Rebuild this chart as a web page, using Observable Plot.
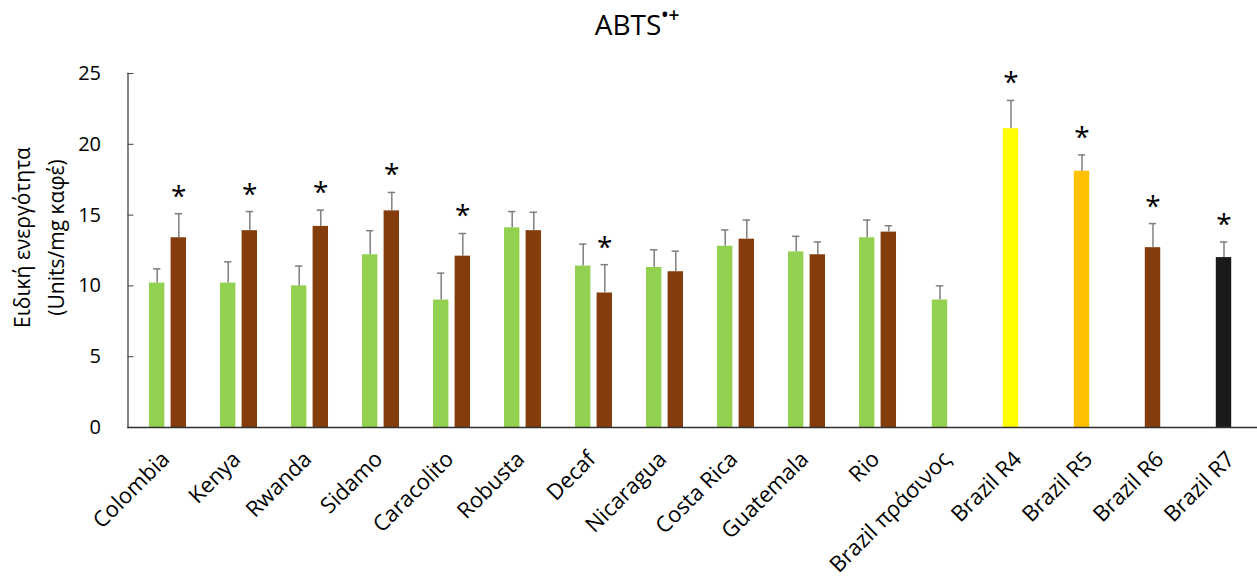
<!DOCTYPE html>
<html>
<head>
<meta charset="utf-8">
<script src="https://cdn.jsdelivr.net/npm/d3@7"></script>
<script src="https://cdn.jsdelivr.net/npm/@observablehq/plot@0.6"></script>
<style>
  html, body { margin: 0; padding: 0; background: #fff; overflow: hidden; }
  #title { position: relative; height: 45px; width: 1257px; font-family: "Open Sans", sans-serif; }
  #title span.t { position: absolute; left: 637px; top: 10px; transform: translateX(-50%); font-size: 28px; line-height: 28px; color: #000; white-space: nowrap; }
  #title sup { font-size: 19px; position: relative; top: -3px; vertical-align: super; line-height: 0; font-weight: 600; }
</style>
</head>
<body>
<div id="title"><span class="t">ABTS<sup>•+</sup></span></div>
<div id="chart"></div>
<script>
// ---- data ----
const categories = ["Colombia", "Kenya", "Rwanda", "Sidamo", "Caracolito", "Robusta", "Decaf", "Nicaragua",
  "Costa Rica", "Guatemala", "Rio", "Brazil πράσινος", "Brazil R4", "Brazil R5", "Brazil R6", "Brazil R7"];

// green (unroasted) beans: first 12 categories
const greenValues = [10.2, 10.2, 10.0, 12.2, 9.0, 14.1, 11.4, 11.3, 12.8, 12.4, 13.4, 9.0];
const greenErrors = [1.0, 1.5, 1.4, 1.7, 1.9, 1.15, 1.55, 1.25, 1.15, 1.1, 1.25, 1.0];

// roasted beans: first 11 categories
const roastedValues = [13.4, 13.9, 14.2, 15.3, 12.1, 13.9, 9.5, 11.0, 13.3, 12.2, 13.8];
const roastedErrors = [1.7, 1.35, 1.15, 1.3, 1.6, 1.3, 2.0, 1.45, 1.35, 0.9, 0.45];
const roastedSignificant = [true, true, true, true, true, false, true, false, false, false, false];

// Brazil roast levels
const roastLevels = ["Brazil R4", "Brazil R5", "Brazil R6", "Brazil R7"];
const roastLevelValues = [21.1, 18.1, 12.7, 12.0];
const roastLevelErrors = [2.0, 1.15, 1.7, 1.1];
const roastLevelSignificant = [true, true, true, true];

const yTicks = [0, 5, 10, 15, 20, 25];
const seriesNames = ["unroasted", "roasted", "Brazil R4", "Brazil R5", "Brazil R6", "Brazil R7"];

// ---- build table ----
const rows = [];
greenValues.forEach((v, i) => rows.push({category: categories[i], series: "unroasted", value: v, err: greenErrors[i],
  star: false, slot: i < roastedValues.length ? "left" : "single"}));
roastedValues.forEach((v, i) => rows.push({category: categories[i], series: "roasted", value: v, err: roastedErrors[i],
  star: roastedSignificant[i], slot: "right"}));
roastLevels.forEach((c, i) => rows.push({category: c, series: c, value: roastLevelValues[i], err: roastLevelErrors[i],
  star: roastLevelSignificant[i], slot: "single"}));

// ---- layout ----
const width = 1257, height = 536;
const marginLeft = 127.5, marginRight = -16, marginTop = 28, marginBottom = 154;
const step = (width - marginLeft - marginRight) / categories.length;
const barW = 16, capW = 8;
const barInset = (step - barW) / 2, capInset = (step - capW) / 2;
const slotOffsets = {left: -10.8, right: 10.8, single: -9};
const errColor = "#7f7f7f";

const marks = [];
for (const [slot, dx] of Object.entries(slotOffsets)) {
  const data = rows.filter(d => d.slot === slot);
  marks.push(
    Plot.barY(data, {x: "category", y: "value", fill: "series", dx, insetLeft: barInset, insetRight: barInset}),
    Plot.ruleX(data, {x: "category", y1: "value", y2: d => d.value + d.err, dx, stroke: errColor, strokeWidth: 1.5}),
    Plot.tickY(data, {x: "category", y: d => d.value + d.err, dx, stroke: errColor, strokeWidth: 1.5,
      insetLeft: capInset, insetRight: capInset}),
    Plot.text(data.filter(d => d.star), {x: "category", y: d => d.value + d.err, text: () => "*", dx, dy: -17,
      fontSize: 28, fill: "#000", textAnchor: "middle", lineAnchor: "middle"})
  );
}

const chart = Plot.plot({
  width, height, marginLeft, marginRight, marginTop, marginBottom,
  style: {fontFamily: "'Open Sans', sans-serif", fontSize: "20px", color: "#000", background: "#fff"},
  x: {type: "band", domain: categories, padding: 0, axis: null},
  y: {domain: [0, 25], axis: null},
  color: {domain: seriesNames, range: ["#92D050", "#843C0C", "#FFFF00", "#FFC000", "#843C0C", "#1A1A1A"]},
  marks: [
    ...marks,
    Plot.axisY({ticks: yTicks, tickSize: -6, tickPadding: 33, fontSize: 20, label: null, stroke: "#404040", fill: "#000"}),
    Plot.frame({anchor: "left", stroke: "#404040", strokeWidth: 1.3}),
    Plot.ruleY([0], {stroke: "#303030", strokeWidth: 1.5}),
    Plot.axisX({tickSize: 0, tickRotate: -45, tickPadding: 28, dx: -2, fontSize: 22, label: null, fill: "#000"}),
    Plot.text(["Ειδική ενεργότητα\n(Units/mg καφέ)"], {frameAnchor: "left", text: d => d, rotate: -90,
      dx: -92, dy: -13, fontSize: 21, lineHeight: 1.6, textAnchor: "middle", lineAnchor: "middle", fill: "#000"})
  ]
});
document.getElementById("chart").appendChild(chart);
</script>
</body>
</html>
